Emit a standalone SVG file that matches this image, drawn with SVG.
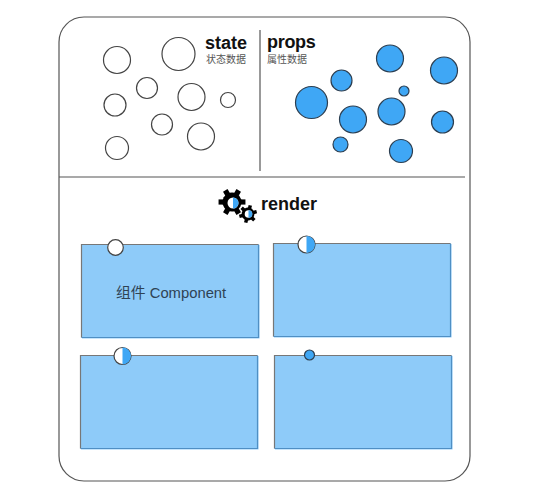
<svg xmlns="http://www.w3.org/2000/svg" width="536" height="500" viewBox="0 0 536 500">
<style>
.frame{fill:#fff;stroke:#555;stroke-width:1.2}
.div{stroke:#555;stroke-width:1.2;fill:none}
.s{fill:#fff;stroke:#444;stroke-width:1.2}
.p{fill:#3fa7f5;stroke:#2c3e50;stroke-width:1.2}
.box{fill:#8ecbf9}
.tl{fill:none;stroke:#777;stroke-width:1.2}
.br{fill:none;stroke:#4f8fc4;stroke-width:1.2}
.t{font-family:"Liberation Sans","Noto Sans CJK SC",sans-serif}
.h{font-size:18px;font-weight:700;fill:#111}
.sub{font-size:10px;fill:#555}
.l{font-size:14.800px;fill:#2f4254}
.half{fill:#3fa7f5}
.tooth{fill:#000}
</style>
<defs>
<g id="gear">
<circle r="1" fill="#000"/>
<rect class="tooth" x="-0.27" y="-1.4" width="0.54" height="2.8"/>
<rect class="tooth" x="-0.27" y="-1.4" width="0.54" height="2.8" transform="rotate(60)"/>
<rect class="tooth" x="-0.27" y="-1.4" width="0.54" height="2.8" transform="rotate(120)"/>
</g>
</defs>
<g id="frame"><rect class="frame" x="59" y="17" width="411" height="464" rx="25" ry="25"/></g>
<g id="connectors">
<path class="div" d="M59 177H465"/>
<path class="div" d="M260 30V171"/>
</g>
<g id="state">
<text class="t h" x="205" y="49">state</text>
<text class="t sub" x="206" y="63">状态数据</text>
<circle class="s" cx="117" cy="60" r="13.500"/>
<circle class="s" cx="178.500" cy="54" r="16.500"/>
<circle class="s" cx="147" cy="88" r="10.500"/>
<circle class="s" cx="191.500" cy="97" r="13.500"/>
<circle class="s" cx="228" cy="100" r="7.500"/>
<circle class="s" cx="115" cy="105" r="11"/>
<circle class="s" cx="162" cy="124.500" r="10.500"/>
<circle class="s" cx="201" cy="136.500" r="13.500"/>
<circle class="s" cx="117" cy="148" r="11.500"/>
</g>
<g id="props">
<text class="t h" x="267" y="48" letter-spacing="-0.3">props</text>
<text class="t sub" x="267" y="63">属性数据</text>
<circle class="p" cx="390" cy="58.500" r="13.500"/>
<circle class="p" cx="444" cy="70.500" r="13.500"/>
<circle class="p" cx="341.500" cy="80.500" r="10.500"/>
<circle class="p" cx="311.500" cy="102.500" r="16"/>
<circle class="p" cx="404" cy="91" r="5"/>
<circle class="p" cx="391.500" cy="111.500" r="13.500"/>
<circle class="p" cx="353" cy="119.500" r="13.500"/>
<circle class="p" cx="442.500" cy="122" r="11"/>
<circle class="p" cx="340.500" cy="144.500" r="7.500"/>
<circle class="p" cx="401" cy="151" r="11.500"/>
</g>
<g id="render">
<use href="#gear" transform="translate(232 202) rotate(30) scale(9.600)"/>
<circle cx="233" cy="203" r="5.500" fill="#fff"/>
<path class="half" d="M233 197.500a5.500 5.500 0 0 1 0 11z"/>
<use href="#gear" transform="translate(248 214) rotate(15) scale(6.400)"/>
<circle cx="248.500" cy="214" r="3.800" fill="#fff"/>
<path class="half" d="M248.500 210.200a3.800 3.800 0 0 1 0 7.600z"/>
<text class="t h" x="261" y="210">render</text>
</g>
<g id="component-1">
<rect class="box" x="82" y="245" width="177.500" height="93.500"/>
<path class="tl" d="M81.500 337.500V244.500H258.500"/>
<path class="br" d="M258.500 244.500V337.500H81.500"/>
<circle class="s" cx="115.500" cy="247.500" r="7.800"/>
<text class="t l" x="116" y="298">组件 Component</text>
</g>
<g id="component-2">
<rect class="box" x="274" y="244" width="177.500" height="93.500"/>
<path class="tl" d="M273.500 336.500V243.500H450.500"/>
<path class="br" d="M450.500 243.500V336.500H273.500"/>
<circle class="s" cx="306.500" cy="244.500" r="8.500"/>
<path class="half" d="M306.500 236a8.500 8.500 0 0 1 0 17z"/>
</g>
<g id="component-3">
<rect class="box" x="81" y="356" width="177.500" height="93.500"/>
<path class="tl" d="M80.500 448.500V355.500H257.500"/>
<path class="br" d="M257.500 355.500V448.500H80.500"/>
<circle class="s" cx="122.500" cy="356" r="8.500"/>
<path class="half" d="M122.500 347.500a8.500 8.500 0 0 1 0 17z"/>
</g>
<g id="component-4">
<rect class="box" x="275" y="356" width="177.500" height="93.500"/>
<path class="tl" d="M274.500 448.500V355.500H451.500"/>
<path class="br" d="M451.500 355.500V448.500H274.500"/>
<circle class="p" cx="309.500" cy="355" r="5"/>
</g>
</svg>
